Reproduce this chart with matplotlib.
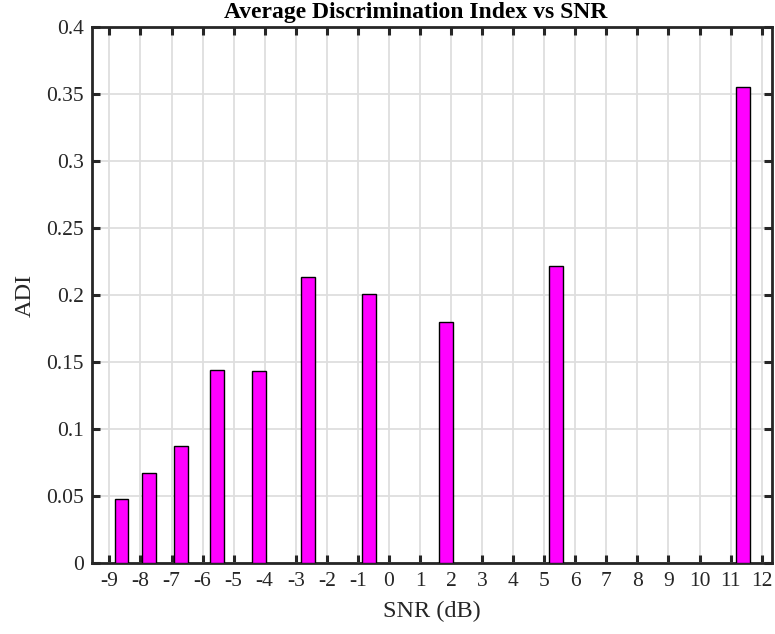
import matplotlib
matplotlib.use("Agg")
import matplotlib.pyplot as plt
import numpy as np

snr = [-8.61, -7.71, -6.68, -5.52, -4.18, -2.59, -0.63, 1.84, 5.39, 11.39]
adi = [0.0483, 0.0673, 0.0878, 0.1447, 0.1439, 0.2134, 0.2010, 0.1799, 0.2216, 0.3556]
xticks = list(range(-9, 13))
yticks = [0, 0.05, 0.1, 0.15, 0.2, 0.25, 0.3, 0.35, 0.4]
ytick_labels = ["0", "0.05", "0.1", "0.15", "0.2", "0.25", "0.3", "0.35", "0.4"]

plt.rcParams['font.family'] = ['Liberation Serif', 'DejaVu Serif']

fig = plt.figure(figsize=(7.75, 6.34), dpi=100)
ax = fig.add_axes([0.1187, 0.1112, 0.8773, 0.8458])

ax.bar(snr, adi, width=0.45, color='#FF00FF', edgecolor='black', linewidth=1.0, zorder=3)

ax.set_xlim(-9.56, 12.33)
ax.set_ylim(0, 0.4)
ax.set_xticks(xticks)
ax.set_xticklabels([str(t) for t in xticks])
ax.set_yticks(yticks)
ax.set_yticklabels(ytick_labels)

ax.grid(True, color='#dedede', linewidth=1.3, zorder=0)
ax.set_axisbelow(True)

for s in ax.spines.values():
    s.set_linewidth(2.0)
    s.set_color('#262626')
ax.tick_params(direction='in', length=6, width=2.2, color='#262626',
               labelsize=15.5, labelcolor='#262626', top=True, right=True, pad=6)

ax.set_xlabel('SNR (dB)', fontsize=17.5, color='#262626', labelpad=7.5)
ax.set_ylabel('ADI', fontsize=17.5, color='#262626', labelpad=7.5)
ax.set_title('Average Discrimination Index vs SNR', fontsize=17, fontweight='bold',
             color='black', pad=6.5, x=0.476)

fig.savefig('out.png', dpi=100)
